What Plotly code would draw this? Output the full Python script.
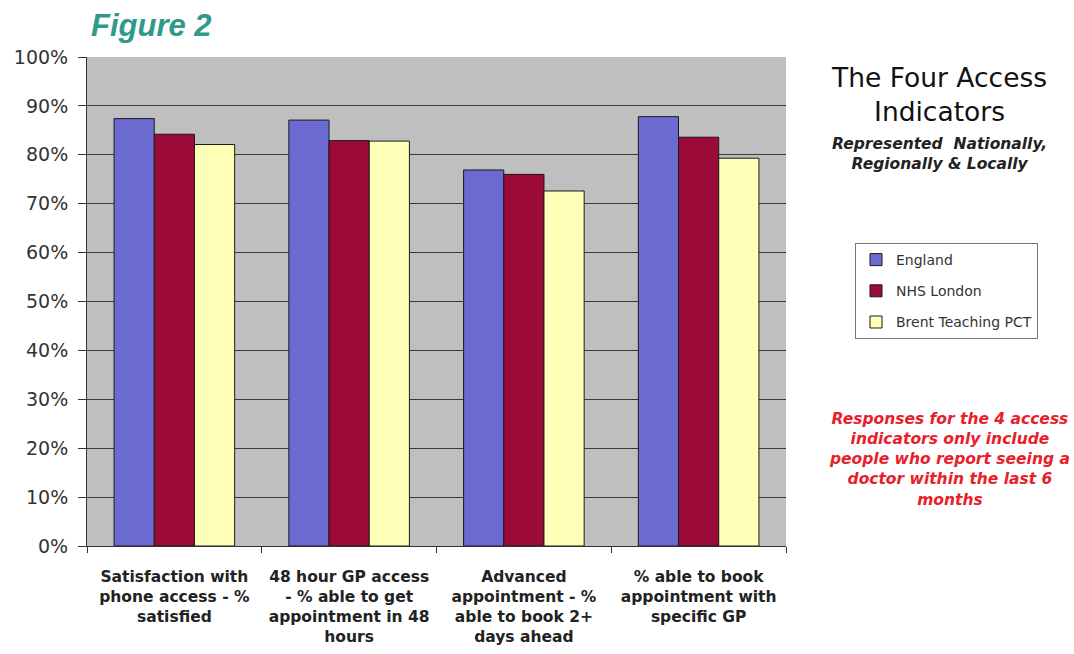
import plotly.graph_objects as go

categories = [
    "Satisfaction with<br>phone access - %<br>satisfied",
    "48 hour GP access<br>- % able to get<br>appointment in 48<br>hours",
    "Advanced<br>appointment - %<br>able to book 2+<br>days ahead",
    "% able to book<br>appointment with<br>specific GP",
]
england = [87.4, 87.1, 76.9, 87.8]
nhs_london = [84.2, 82.9, 76.0, 83.6]
brent = [82.1, 82.8, 72.6, 79.3]

series = [
    ("England", england, "#6a6ad0"),
    ("NHS London", nhs_london, "#9c0a38"),
    ("Brent Teaching PCT", brent, "#ffffb8"),
]

DJ = "DejaVu Sans, Liberation Sans, Arial, sans-serif"

fig = go.Figure()
for name, vals, color in series:
    fig.add_trace(go.Bar(
        x=categories, y=vals, name=name, legendgroup=name,
        marker=dict(color=color, line=dict(color="#1a1a1a", width=1)),
    ))

fig.update_layout(
    width=1074, height=654,
    margin=dict(l=87, r=288, t=57, b=108),
    paper_bgcolor="white",
    plot_bgcolor="#bfbfbf",
    barmode="group",
    bargap=0.31,
    bargroupgap=0,
    font=dict(family=DJ, color="#222"),
    showlegend=True,
    legend=dict(
        x=(855 - 87) / 699, y=(546 - 243) / 489, xanchor="left", yanchor="top",
        bgcolor="white", bordercolor="#777", borderwidth=1,
        font=dict(size=14, color="#333", family=DJ),
        traceorder="grouped",
        tracegroupgap=10,
        itemwidth=30,
    ),
    xaxis=dict(
        showline=True, linecolor="#333", linewidth=1,
        ticks="outside", tickson="boundaries", ticklen=6, tickcolor="#333",
        tickfont=dict(size=15.5, color="#222", family="DejaVu Sans, sans-serif", weight="bold"),
        ticklabelstandoff=16,
        automargin=False,
    ),
    yaxis=dict(
        range=[0, 100], dtick=10, ticksuffix="%",
        showgrid=True, gridcolor="#3a3a3a", gridwidth=1,
        showline=True, linecolor="#333", linewidth=1,
        ticks="outside", ticklen=8, tickcolor="#333",
        tickfont=dict(size=19, color="#333", family=DJ),
        ticklabelstandoff=6,
        zeroline=False,
        automargin=False,
    ),
)

fig.add_annotation(text="<b><i>Figure 2</i></b>", xref="paper", yref="paper",
                   x=(89 - 87) / 699, y=(546 - 25) / 489, xanchor="left", yanchor="middle",
                   showarrow=False, font=dict(size=31, color="#2f9a88", family="Liberation Sans, Arial, sans-serif"))
fig.add_annotation(text="The Four Access<br>Indicators", xref="paper", yref="paper",
                   x=(939 - 87) / 699, y=(546 - 60) / 489, xanchor="center", yanchor="top",
                   showarrow=False, font=dict(size=26.5, color="#111", family=DJ))
fig.add_annotation(text="<b><i>Represented  Nationally,<br>Regionally & Locally</i></b>", xref="paper", yref="paper",
                   x=(939 - 87) / 699, y=(546 - 133) / 489, xanchor="center", yanchor="top",
                   showarrow=False, font=dict(size=15.5, color="#222", family=DJ))
fig.add_annotation(text="<b><i>Responses for the 4 access<br>indicators only include<br>people who report seeing a<br>doctor within the last 6<br>months</i></b>",
                   xref="paper", yref="paper",
                   x=(949 - 87) / 699, y=(546 - 408) / 489, xanchor="center", yanchor="top",
                   showarrow=False, font=dict(size=15.5, color="#e8202a", family=DJ))

fig.write_html("out.html")
